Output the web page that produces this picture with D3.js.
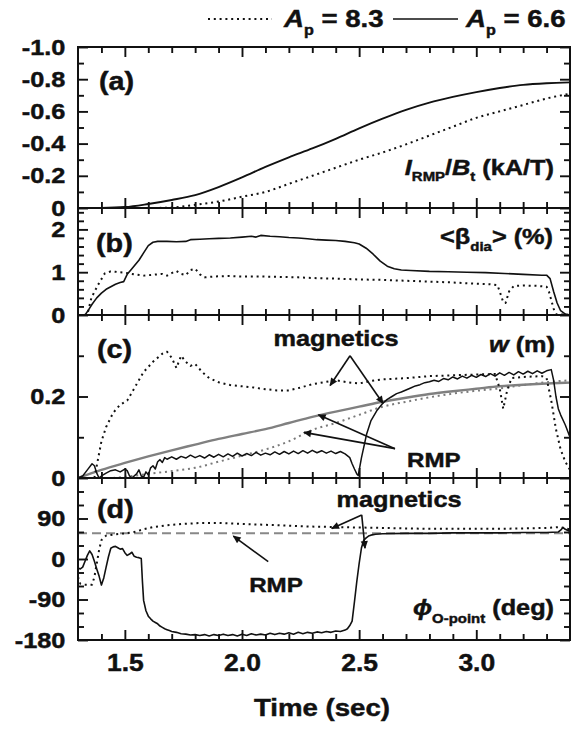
<!DOCTYPE html>
<html>
<head>
<meta charset="utf-8">
<script src="https://cdn.jsdelivr.net/npm/d3@7"></script>
<style>
  body { margin: 0; background: #fff; }
  text { font-family: "Liberation Sans", Arial, "DejaVu Sans", sans-serif; font-weight: bold; fill: #111; stroke: #111; stroke-width: 0.45; }
</style>
</head>
<body>
<div id="chart"></div>
<script>
// ---- data ----

// x axis (time, sec)
const xMajorTicks = [1.5, 2.0, 2.5, 3.0];
const xTickLabels = ["1.5", "2.0", "2.5", "3.0"];
const xMinorTicks = [1.4, 1.6, 1.7, 1.8, 1.9, 2.1, 2.2, 2.3, 2.4, 2.6, 2.7, 2.8, 2.9, 3.1, 3.2, 3.3];

// (a) I_RMP / B_t
const timeA = [1.3, 1.4, 1.5, 1.6, 1.7, 1.8, 1.9, 2.0, 2.1, 2.2, 2.3, 2.4, 2.5, 2.6, 2.7, 2.8, 2.9, 3.0, 3.1, 3.2, 3.3, 3.4];
const irmpAp66 = [0, -0.001, -0.006, -0.025, -0.05, -0.08, -0.13, -0.19, -0.255, -0.315, -0.37, -0.43, -0.495, -0.555, -0.61, -0.655, -0.69, -0.72, -0.745, -0.765, -0.775, -0.78];
const irmpAp83 = [0, 0, 0, 0, -0.003, -0.02, -0.04, -0.07, -0.1, -0.15, -0.2, -0.25, -0.3, -0.345, -0.395, -0.45, -0.505, -0.56, -0.6, -0.64, -0.68, -0.71];
const aTicks = [-1.0, -0.8, -0.6, -0.4, -0.2, 0];
const aTickLabels = ["-1.0", "-0.8", "-0.6", "-0.4", "-0.2", "0"];
const aMinor = [-0.9, -0.7, -0.5, -0.3, -0.1];

// (b) <beta_dia> (%)  [time, value]
const betaAp66 = [[1.30,0],[1.33,0],[1.345,0.12],[1.36,0.25],[1.38,0.40],[1.40,0.51],[1.42,0.60],[1.44,0.66],[1.46,0.72],[1.48,0.76],[1.495,0.78],[1.51,0.95],[1.53,1.08],[1.56,1.28],[1.58,1.45],[1.60,1.62],[1.62,1.70],[1.64,1.72],[1.68,1.72],[1.72,1.71],[1.76,1.72],[1.78,1.76],[1.82,1.77],[1.86,1.78],[1.90,1.79],[1.95,1.80],[2.00,1.82],[2.04,1.84],[2.06,1.82],[2.08,1.86],[2.12,1.84],[2.16,1.83],[2.20,1.81],[2.24,1.80],[2.28,1.78],[2.32,1.76],[2.36,1.75],[2.40,1.74],[2.44,1.72],[2.48,1.69],[2.50,1.66],[2.53,1.56],[2.56,1.42],[2.59,1.26],[2.62,1.14],[2.65,1.08],[2.68,1.05],[2.72,1.04],[2.80,1.02],[2.88,1.01],[2.96,1.00],[3.04,0.99],[3.12,0.97],[3.20,0.95],[3.28,0.93],[3.30,0.93],[3.315,0.85],[3.33,0.55],[3.345,0.28],[3.36,0.10],[3.38,0.02],[3.40,0]];
const betaAp83 = [[1.30,0],[1.33,0],[1.343,0.08],[1.357,0.40],[1.385,0.70],[1.414,0.97],[1.44,1.02],[1.46,1.01],[1.50,0.99],[1.54,0.95],[1.58,0.92],[1.62,0.94],[1.66,0.96],[1.68,0.92],[1.70,0.98],[1.72,1.03],[1.74,0.96],[1.76,0.93],[1.78,1.05],[1.80,1.08],[1.82,0.95],[1.84,0.88],[1.88,0.90],[1.94,0.91],[2.00,0.90],[2.08,0.90],[2.16,0.89],[2.24,0.88],[2.32,0.86],[2.40,0.85],[2.50,0.83],[2.60,0.82],[2.70,0.80],[2.80,0.78],[2.90,0.76],[3.00,0.73],[3.06,0.72],[3.09,0.70],[3.10,0.55],[3.115,0.30],[3.125,0.28],[3.14,0.55],[3.16,0.68],[3.20,0.69],[3.26,0.68],[3.30,0.66],[3.31,0.55],[3.33,0.15],[3.34,0.02],[3.40,0]];
const bTicks = [0, 1, 2];
const bTickLabels = ["0", "1", "2"];
const bMinor = [0.2, 0.4, 0.6, 0.8, 1.2, 1.4, 1.6, 1.8, 2.2, 2.4];

// (c) island width w (m)
const wMagAp66 = [[1.30,0],[1.32,0.005],[1.34,0.02],[1.36,0.035],[1.37,0.03],[1.38,0.012],[1.39,0],[1.40,0.005],[1.42,0.012],[1.44,0.018],[1.46,0.02],[1.48,0.015],[1.50,0.022],[1.51,0.018],[1.52,0.005],[1.53,0],[1.55,0.01],[1.56,0.02],[1.57,0.005],[1.58,0.002],[1.59,0.015],[1.60,0.008],[1.61,0.025],[1.62,0.03],[1.63,0.022],[1.64,0.04],[1.65,0.045],[1.66,0.038],[1.67,0.05],[1.68,0.046],[1.70,0.052],[1.72,0.046],[1.74,0.053],[1.76,0.049],[1.78,0.056],[1.80,0.05],[1.82,0.055],[1.84,0.049],[1.86,0.057],[1.88,0.051],[1.90,0.058],[1.92,0.052],[1.94,0.059],[1.96,0.053],[1.98,0.061],[2.00,0.054],[2.02,0.06],[2.04,0.055],[2.06,0.063],[2.08,0.056],[2.10,0.061],[2.12,0.057],[2.14,0.064],[2.16,0.058],[2.18,0.065],[2.20,0.059],[2.22,0.066],[2.24,0.06],[2.26,0.067],[2.28,0.061],[2.30,0.068],[2.32,0.062],[2.34,0.067],[2.36,0.061],[2.38,0.066],[2.40,0.06],[2.42,0.065],[2.44,0.059],[2.46,0.05],[2.47,0.035],[2.48,0.022],[2.49,0.01],[2.496,0.006],[2.51,0.05],[2.532,0.108],[2.55,0.14],[2.575,0.165],[2.60,0.183],[2.62,0.193],[2.64,0.2],[2.66,0.207],[2.68,0.211],[2.70,0.216],[2.72,0.221],[2.74,0.226],[2.76,0.229],[2.78,0.234],[2.80,0.236],[2.82,0.24],[2.84,0.237],[2.86,0.244],[2.88,0.241],[2.90,0.248],[2.92,0.243],[2.94,0.25],[2.96,0.245],[2.98,0.252],[3.00,0.247],[3.02,0.254],[3.04,0.249],[3.06,0.256],[3.08,0.25],[3.10,0.258],[3.12,0.252],[3.14,0.259],[3.16,0.253],[3.18,0.261],[3.20,0.255],[3.22,0.262],[3.24,0.256],[3.26,0.263],[3.28,0.257],[3.30,0.263],[3.32,0.266],[3.33,0.24],[3.34,0.2],[3.35,0.17],[3.36,0.155],[3.38,0.13],[3.40,0.1]];
const wMagAp83 = [[1.37,0],[1.38,0.03],[1.39,0.06],[1.40,0.09],[1.42,0.125],[1.45,0.16],[1.48,0.18],[1.51,0.19],[1.54,0.22],[1.58,0.26],[1.62,0.285],[1.66,0.305],[1.68,0.31],[1.70,0.295],[1.72,0.27],[1.74,0.30],[1.76,0.285],[1.78,0.275],[1.80,0.28],[1.83,0.26],[1.86,0.245],[1.90,0.235],[1.95,0.228],[2.00,0.225],[2.05,0.222],[2.10,0.218],[2.15,0.215],[2.20,0.215],[2.25,0.222],[2.30,0.23],[2.35,0.235],[2.40,0.24],[2.45,0.235],[2.50,0.232],[2.55,0.238],[2.60,0.242],[2.70,0.245],[2.80,0.25],[2.90,0.252],[3.00,0.254],[3.08,0.255],[3.10,0.22],[3.115,0.17],[3.13,0.21],[3.15,0.245],[3.20,0.248],[3.28,0.25],[3.30,0.245],[3.32,0.19],[3.34,0.12],[3.36,0.07],[3.38,0.04],[3.40,0.02]];
const wRmpAp66 = [[1.3,0],[1.4,0.02],[1.5,0.037],[1.6,0.053],[1.7,0.068],[1.8,0.082],[1.9,0.096],[2.0,0.108],[2.1,0.12],[2.2,0.135],[2.3,0.15],[2.4,0.163],[2.5,0.175],[2.6,0.187],[2.7,0.197],[2.8,0.206],[2.9,0.213],[3.0,0.219],[3.1,0.225],[3.2,0.229],[3.3,0.232],[3.4,0.234]];
const wRmpAp83 = [[1.45,0],[1.5,0.003],[1.6,0.01],[1.7,0.017],[1.8,0.025],[1.9,0.04],[2.0,0.055],[2.1,0.07],[2.2,0.09],[2.3,0.118],[2.4,0.135],[2.5,0.155],[2.6,0.175],[2.7,0.187],[2.8,0.198],[2.9,0.207],[3.0,0.214],[3.1,0.22],[3.2,0.228],[3.3,0.235],[3.4,0.24]];
const cTicks = [0, 0.2];
const cTickLabels = ["0", "0.2"];
const cMinor = [0.1, 0.3];

// (d) phase of O-point (deg)
const phiMagAp66 = [[1.30,-20],[1.31,-22],[1.32,-18],[1.33,-5],[1.34,8],[1.35,18],[1.36,10],[1.37,-5],[1.38,-22],[1.39,-38],[1.40,-58],[1.41,-42],[1.42,-18],[1.43,5],[1.44,24],[1.45,27],[1.46,28],[1.47,25],[1.48,22],[1.49,23],[1.50,14],[1.51,8],[1.52,11],[1.53,15],[1.54,6],[1.55,4],[1.56,3],[1.57,1],[1.575,-50],[1.58,-92],[1.59,-115],[1.60,-127],[1.61,-133],[1.62,-138],[1.63,-141],[1.64,-144],[1.65,-149],[1.66,-152],[1.67,-155],[1.68,-157],[1.69,-159],[1.70,-161],[1.72,-163],[1.74,-166],[1.76,-167],[1.78,-169],[1.80,-168],[1.82,-170],[1.84,-168],[1.86,-171],[1.88,-168],[1.90,-170],[1.92,-167],[1.94,-170],[1.96,-168],[1.98,-171],[2.00,-167],[2.02,-170],[2.04,-166],[2.06,-169],[2.08,-167],[2.10,-169],[2.12,-165],[2.14,-168],[2.16,-165],[2.18,-167],[2.20,-164],[2.22,-167],[2.24,-163],[2.26,-166],[2.28,-163],[2.30,-165],[2.32,-162],[2.34,-164],[2.36,-161],[2.38,-163],[2.40,-160],[2.42,-161],[2.44,-158],[2.45,-155],[2.46,-148],[2.47,-138],[2.48,-95],[2.49,-50],[2.50,-10],[2.51,25],[2.52,42],[2.53,47],[2.54,51],[2.55,53],[2.57,55],[2.60,56],[2.70,57],[2.80,57],[2.90,58],[3.00,58],[3.10,58],[3.20,59],[3.30,59],[3.35,60],[3.36,64],[3.37,70],[3.38,66],[3.40,61]];
const phiMagAp83 = [[1.30,-40],[1.31,-55],[1.33,-57],[1.36,-57],[1.37,-40],[1.38,-10],[1.39,20],[1.40,42],[1.42,52],[1.46,55],[1.50,57],[1.54,60],[1.58,66],[1.62,71],[1.68,75],[1.75,78],[1.82,80],[1.90,80],[2.00,78],[2.10,76],[2.20,74],[2.30,72],[2.40,71],[2.50,70],[2.60,69],[2.70,68],[2.80,67],[2.90,67],[3.00,67],[3.10,67],[3.20,68],[3.30,69],[3.36,71],[3.38,68],[3.40,66]];
const phiRmp = [[1.30,57],[3.40,57]];
const dTicks = [-180, -90, 0, 90];
const dTickLabels = ["-180", "-90", "0", "90"];
const dMinor = [-150, -120, -60, -30, 30, 60, 120, 150];

// annotations (data units)
const cArrows = [
  { from: [2.461, 0.300], to: [2.376, 0.227] },
  { from: [2.461, 0.300], to: [2.602, 0.183] },
  { from: [2.653, 0.072], to: [2.326, 0.155] },
  { from: [2.653, 0.072], to: [2.264, 0.112] }
];
const dArrows = [
  { from: [2.511, 98], to: [2.383, 68] },
  { from: [2.511, 98], to: [2.525, 24] },
  { from: [2.112, -6], to: [1.963, 51] }
];
const cNotes = [{ text: "magnetics", at: [2.401, 0.323] }, { text: "RMP", at: [2.819, 0.027] }];
const dNotes = [{ text: "magnetics", at: [2.67, 116] }, { text: "RMP", at: [2.145, -73] }];

// ---- layout ----
const width = 577, height = 729;
const left = 78, right = 570;
const stretch = 1.15; // glyphs in the figure are a bit wide

const svg = d3.select("#chart").append("svg").attr("width", width).attr("height", height);

svg.append("defs").append("marker")
  .attr("id", "arrow")
  .attr("viewBox", "0 0 10 10")
  .attr("refX", 9).attr("refY", 5)
  .attr("markerWidth", 10).attr("markerHeight", 8)
  .attr("markerUnits", "userSpaceOnUse")
  .attr("orient", "auto")
  .append("path").attr("d", "M0,0.5 L10,5 L0,9.5 Z").attr("fill", "#111");

const x = d3.scaleLinear().domain([1.3, 3.4]).range([left, right]);

const panels = [
  { top: 47, bottom: 208, y: d3.scaleLinear().domain([0, -1.0]).range([208, 47]), ticks: aTicks, labels: aTickLabels, minor: aMinor },
  { top: 208, bottom: 315, y: d3.scaleLinear().domain([0, 2.5]).range([315, 208]), ticks: bTicks, labels: bTickLabels, minor: bMinor },
  { top: 315, bottom: 478, y: d3.scaleLinear().domain([0, 0.4]).range([478, 315]), ticks: cTicks, labels: cTickLabels, minor: cMinor },
  { top: 478, bottom: 640, y: d3.scaleLinear().domain([-180, 180]).range([640, 478]), ticks: dTicks, labels: dTickLabels, minor: dMinor }
];

function styleAxis(g, size) {
  g.select(".domain").remove();
  g.attr("color", "#111").attr("font-size", size || 22).attr("font-family", null);
  g.selectAll("line").attr("stroke-width", 1.9);
  g.selectAll("text").attr("transform", `scale(${stretch},1)`);
}

function lineFor(p, curve) {
  return d3.line().x(d => x(d[0])).y(d => p.y(d[1])).curve(curve || d3.curveLinear);
}

function drawSeries(p, data, opts) {
  svg.append("path")
    .datum(data)
    .attr("d", lineFor(p, opts.curve))
    .attr("fill", "none")
    .attr("stroke", opts.color || "#111")
    .attr("stroke-width", opts.width || 1.6)
    .attr("stroke-dasharray", opts.dash || null)
    .attr("stroke-linejoin", "round");
}

function addLabel(x0, y0, anchor, parts) {
  const t = svg.append("text")
    .attr("transform", `translate(${x0},${y0}) scale(${stretch},1)`)
    .attr("text-anchor", anchor);
  parts.forEach(pt => {
    t.append("tspan")
      .attr("font-size", pt.size)
      .attr("font-style", pt.italic ? "italic" : null)
      .attr("dy", pt.dy || 0)
      .text(pt.text);
  });
  return t;
}

function drawArrows(p, arrows) {
  arrows.forEach(a => {
    svg.append("line")
      .attr("x1", x(a.from[0])).attr("y1", p.y(a.from[1]))
      .attr("x2", x(a.to[0])).attr("y2", p.y(a.to[1]))
      .attr("stroke", "#111").attr("stroke-width", 1.6)
      .attr("marker-end", "url(#arrow)");
  });
}

// ---- series ----
const dotted = "2,3.8";
const pa = panels[0], pb = panels[1], pc = panels[2], pd = panels[3];

drawSeries(pa, timeA.map((t, i) => [t, irmpAp83[i]]), { dash: dotted, width: 2, curve: d3.curveMonotoneX });
drawSeries(pa, timeA.map((t, i) => [t, irmpAp66[i]]), { width: 1.9, curve: d3.curveMonotoneX });

drawSeries(pb, betaAp83, { dash: dotted, width: 2 });
drawSeries(pb, betaAp66, { width: 1.6 });

drawSeries(pc, wRmpAp83, { dash: dotted, width: 2, color: "#7a7a7a", curve: d3.curveMonotoneX });
drawSeries(pc, wRmpAp66, { width: 2.4, color: "#808080", curve: d3.curveMonotoneX });
drawSeries(pc, wMagAp83, { dash: dotted, width: 2 });
drawSeries(pc, wMagAp66, { width: 1.5 });

drawSeries(pd, phiRmp, { dash: "9,5", width: 2, color: "#888" });
drawSeries(pd, phiMagAp83, { dash: dotted, width: 2 });
drawSeries(pd, phiMagAp66, { width: 1.6 });

// ---- axes and frames ----
panels.forEach((p, i) => {
  const last = i === panels.length - 1;
  // left
  svg.append("g").attr("transform", `translate(${left},0)`)
    .call(d3.axisLeft(p.y).tickValues(p.ticks).tickFormat((d, k) => p.labels[k]).tickSizeInner(-10).tickSizeOuter(0).tickPadding(11))
    .call(styleAxis);
  svg.append("g").attr("transform", `translate(${left},0)`)
    .call(d3.axisLeft(p.y).tickValues(p.minor).tickFormat("").tickSizeInner(-6).tickSizeOuter(0))
    .call(styleAxis);
  // right
  svg.append("g").attr("transform", `translate(${right},0)`)
    .call(d3.axisRight(p.y).tickValues(p.ticks).tickFormat("").tickSizeInner(-10).tickSizeOuter(0))
    .call(styleAxis);
  svg.append("g").attr("transform", `translate(${right},0)`)
    .call(d3.axisRight(p.y).tickValues(p.minor).tickFormat("").tickSizeInner(-6).tickSizeOuter(0))
    .call(styleAxis);
  // top
  svg.append("g").attr("transform", `translate(0,${p.top})`)
    .call(d3.axisTop(x).tickValues(xMajorTicks).tickFormat("").tickSizeInner(-10).tickSizeOuter(0))
    .call(styleAxis);
  svg.append("g").attr("transform", `translate(0,${p.top})`)
    .call(d3.axisTop(x).tickValues(xMinorTicks).tickFormat("").tickSizeInner(-6).tickSizeOuter(0))
    .call(styleAxis);
  // bottom
  svg.append("g").attr("transform", `translate(0,${p.bottom})`)
    .call(d3.axisBottom(x).tickValues(xMajorTicks)
      .tickFormat((d, k) => last ? xTickLabels[k] : "")
      .tickSizeInner(-10).tickSizeOuter(0).tickPadding(15))
    .call(g => styleAxis(g, 23));
  svg.append("g").attr("transform", `translate(0,${p.bottom})`)
    .call(d3.axisBottom(x).tickValues(xMinorTicks).tickFormat("").tickSizeInner(-6).tickSizeOuter(0))
    .call(styleAxis);

  svg.append("rect")
    .attr("x", left).attr("y", p.top)
    .attr("width", right - left).attr("height", p.bottom - p.top)
    .attr("fill", "none").attr("stroke", "#111").attr("stroke-width", 2);
});

// ---- annotations ----
drawArrows(pc, cArrows);
drawArrows(pd, dArrows);
cNotes.forEach(n => addLabel(x(n.at[0]), pc.y(n.at[1]), "middle", [{ text: n.text, size: n.text === "RMP" ? 21 : 22 }]));
dNotes.forEach(n => addLabel(x(n.at[0]), pd.y(n.at[1]), "middle", [{ text: n.text, size: n.text === "RMP" ? 21 : 22 }]));

// panel letters
addLabel(99, 90, "start", [{ text: "(a)", size: 25 }]);
addLabel(96, 252, "start", [{ text: "(b)", size: 25 }]);
addLabel(97, 358, "start", [{ text: "(c)", size: 25 }]);
addLabel(97, 518, "start", [{ text: "(d)", size: 25 }]);

// quantity labels
addLabel(554, 175, "end", [
  { text: "I", size: 22, italic: true },
  { text: "RMP", size: 13, dy: 6 },
  { text: "/", size: 22, dy: -6 },
  { text: "B", size: 22, italic: true },
  { text: "t", size: 13, dy: 6 },
  { text: " (kA/T)", size: 22, dy: -6 }
]);
addLabel(553, 244, "end", [
  { text: "<\u03b2", size: 22 },
  { text: "dia", size: 13, dy: 7 },
  { text: "> (%)", size: 22, dy: -7 }
]);
addLabel(555, 352, "end", [
  { text: "w", size: 22, italic: true },
  { text: " (m)", size: 22 }
]);
addLabel(554, 615, "end", [
  { text: "\u03d5", size: 22, italic: true },
  { text: "O-point", size: 13, dy: 8 },
  { text: " (deg)", size: 22, dy: -8 }
]);

// x title
addLabel(322, 716, "middle", [{ text: "Time (sec)", size: 24 }]);

// legend
svg.append("line").attr("x1", 208).attr("x2", 272).attr("y1", 19).attr("y2", 19)
  .attr("stroke", "#111").attr("stroke-width", 2).attr("stroke-dasharray", dotted);
addLabel(284, 27, "start", [
  { text: "A", size: 24, italic: true },
  { text: "p", size: 14, dy: 8 },
  { text: " = 8.3", size: 24, dy: -8 }
]);
svg.append("line").attr("x1", 393).attr("x2", 458).attr("y1", 19).attr("y2", 19)
  .attr("stroke", "#111").attr("stroke-width", 1.6);
addLabel(466, 27, "start", [
  { text: "A", size: 24, italic: true },
  { text: "p", size: 14, dy: 8 },
  { text: " = 6.6", size: 24, dy: -8 }
]);
</script>
</body>
</html>
